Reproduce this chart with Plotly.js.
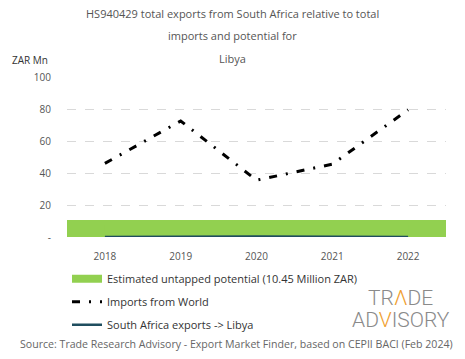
<!DOCTYPE html>
<html>
<head>
<meta charset="utf-8">
<script src="https://cdn.plot.ly/plotly-3.0.1.min.js"></script>
<style>html,body{margin:0;padding:0;background:#fff;}#chart{width:465px;height:359px;}</style>
</head>
<body>
<div id="chart"></div>
<script>
const years = ["2018", "2019", "2020", "2021", "2022"];
const potential = [10.45, 10.45, 10.45, 10.45, 10.45];
const importsWorld = [46, 72.5, 35.5, 45.5, 79.5];
const saExports = [0.05, 0.3, 0.3, 0.1, 0.05];
const yTickVals = [0, 20, 40, 60, 80, 100];
const yTickText = ["-", "20", "40", "60", "80", "100"];
const titleLines = ["HS940429 total exports from South Africa relative to total", "imports and potential for", "Libya"];

const FONT = "Open Sans, sans-serif";
const GREY = "#555555";
const GREEN = "#92d050";

const traces = [
  {type: "bar", x: years, y: potential, name: "Estimated untapped potential (10.45 Million ZAR)",
   marker: {color: GREEN}, showlegend: false, hoverinfo: "skip"},
  // legend entry for the potential band (drawn inside the bar, same colour)
  {type: "scatter", mode: "lines", x: years, y: potential.map(v => v / 2),
   name: "Estimated untapped potential (10.45 Million ZAR)",
   line: {color: GREEN, width: 8}, legendgroup: "a", hoverinfo: "skip"},
  {type: "scatter", mode: "lines", x: years, y: importsWorld, name: "Imports from World",
   line: {color: "#000000", width: 3, dash: "8px,9px,2px,9px"}, legendgroup: "b"},
  {type: "scatter", mode: "lines", x: years, y: saExports, name: "South Africa exports -> Libya",
   line: {color: "#1f4e5f", width: 2.5}, legendgroup: "c"}
];

const annotations = titleLines.map((t, i) => ({
  text: t, xref: "paper", yref: "paper", x: 0.437, y: 1, yshift: 64 - i * 22.5,
  xanchor: "center", yanchor: "middle", showarrow: false,
  font: {family: FONT, size: 11, color: GREY}
}));
annotations.push(
  {text: "ZAR Mn", xref: "paper", yref: "paper", x: 0, xshift: -57, y: 1, yshift: 17,
   xanchor: "left", yanchor: "middle", showarrow: false, font: {family: FONT, size: 10, color: "#333"}},
  {text: "TR<span style='color:#f0a030'>Λ</span>DE", xref: "paper", yref: "paper", x: 0.88, y: 0, yshift: -61,
   xanchor: "center", yanchor: "middle", showarrow: false, font: {family: "Roboto, sans-serif", size: 21, color: "#8a8a8a", weight: 300}},
  {text: "AD<span style='color:#f0a030'>V</span>ISORY", xref: "paper", yref: "paper", x: 0.88, y: 0, yshift: -83,
   xanchor: "center", yanchor: "middle", showarrow: false, font: {family: "Roboto, sans-serif", size: 21, color: "#8a8a8a", weight: 300}},
  {text: "Source: Trade Research Advisory - Export Market Finder, based on CEPII BACI (Feb 2024)", xref: "paper", yref: "paper",
   x: 0.5, xshift: -20, y: 0, yshift: -107, xanchor: "center", yanchor: "middle", showarrow: false,
   font: {family: FONT, size: 10.6, color: "#666"}}
);

const layout = {
  width: 465, height: 359,
  margin: {l: 67, r: 19, t: 77, b: 122},
  paper_bgcolor: "#fff", plot_bgcolor: "#fff",
  font: {family: FONT, size: 10, color: GREY},
  showlegend: true,
  bargap: 0,
  xaxis: {type: "category", range: [-0.5, 4.5], showgrid: false, zeroline: false, showline: false,
          ticks: "", ticklabelstandoff: 12, tickfont: {family: FONT, size: 10, color: GREY}, fixedrange: true},
  yaxis: {range: [0, 100], tickvals: yTickVals, ticktext: yTickText, showgrid: true, gridcolor: "#d9d9d9",
          griddash: "dash", gridwidth: 1, zeroline: false, showline: false, ticks: "", ticklabelstandoff: 15,
          tickfont: {family: FONT, size: 10, color: GREY}, fixedrange: true},
  legend: {orientation: "v", x: 0, xanchor: "left", yanchor: "top", yref: "paper", xref: "paper",
           y: -0.17, tracegroupgap: 4, traceorder: "grouped", font: {family: FONT, size: 11, color: "#333"},
           bgcolor: "rgba(0,0,0,0)"},
  annotations: annotations
};

Plotly.newPlot("chart", traces, layout, {displayModeBar: false, staticPlot: true});
</script>
</body>
</html>
